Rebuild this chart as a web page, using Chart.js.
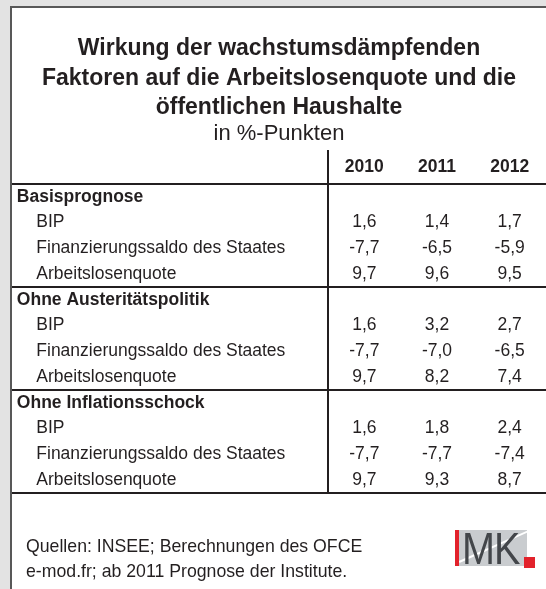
<!DOCTYPE html>
<html>
<head>
<meta charset="utf-8">
<script src="https://cdn.jsdelivr.net/npm/chart.js@4"></script>
<style>
  body { margin: 0; background: #e3e3e3; font-family: "Liberation Sans", Arial, sans-serif; }
  #panel { position: absolute; left: 10px; top: 6px; width: 536px; height: 583px; background: #fff;
           border-left: 2px solid #585858; border-top: 2px solid #585858; box-sizing: border-box; }
  #c { position: absolute; left: 0; top: 0; }
  #source { position: absolute; left: 14px; top: 526px; font-size: 17.7px; line-height: 25px; color: #231f20; }
  #logo { position: absolute; left: 443px; top: 522px; width: 72px; height: 36px; background: #c9cccf; overflow: hidden; }
  #logo .bar { position: absolute; left: 0; top: 0; width: 4px; height: 36px; background: #e2222b; }
  #logo .swoosh { position: absolute; left: 4px; top: 31px; width: 80px; height: 1.5px; background: #fff;
                  transform: rotate(-24deg); transform-origin: left center; }
  #logo .txt { position: absolute; left: 7px; top: -4px; font-size: 45px; line-height: 45px; color: #43464a;
               transform: scaleX(0.88); transform-origin: left top; letter-spacing: -1px; }
  #dot { position: absolute; left: 512px; top: 549px; width: 11px; height: 11px; background: #e2222b; }
</style>
</head>
<body>
<div id="panel">
  <canvas id="c" width="534" height="581"></canvas>
  <div id="source">Quellen: INSEE; Berechnungen des OFCE<br>e-mod.fr; ab 2011 Prognose der Institute.</div>
  <div id="logo"><div class="swoosh"></div><div class="bar"></div><div class="txt">MK</div></div>
  <div id="dot"></div>
</div>
<script>
// Wirkung der wachstumsdämpfenden Faktoren (Tabelle als Chart.js-Raster)

const years = ['2010', '2011', '2012'];
const sections = ['Basisprognose', 'Ohne Austeritätspolitik', 'Ohne Inflationsschock'];
const indicators = ['BIP', 'Finanzierungssaldo des Staates', 'Arbeitslosenquote'];

const bipBasis = [1.6, 1.4, 1.7];
const saldoBasis = [-7.7, -6.5, -5.9];
const alqBasis = [9.7, 9.6, 9.5];

const bipOhneAusteritaet = [1.6, 3.2, 2.7];
const saldoOhneAusteritaet = [-7.7, -7.0, -6.5];
const alqOhneAusteritaet = [9.7, 8.2, 7.4];

const bipOhneInflation = [1.6, 1.8, 2.4];
const saldoOhneInflation = [-7.7, -7.7, -7.4];
const alqOhneInflation = [9.7, 9.3, 8.7];

const sectionValues = [
    [bipBasis, saldoBasis, alqBasis],
    [bipOhneAusteritaet, saldoOhneAusteritaet, alqOhneAusteritaet],
    [bipOhneInflation, saldoOhneInflation, alqOhneInflation]
];

const FONT = '"Liberation Sans", Arial, sans-serif';
const INK = '#231f20';

// unique row keys "Abschnitt|Indikator", the tick callback shows only the visible part
const rowKeys = [];
const cells = [];
sections.forEach((sec, i) => {
    rowKeys.push(sec);
    indicators.forEach((ind, j) => {
        const key = sec + '|' + ind;
        rowKeys.push(key);
        sectionValues[i][j].forEach((v, k) => cells.push({ x: years[k], y: key, v: v }));
    });
});
const sectionRows = sections.map(s => rowKeys.indexOf(s));

const fmt = v => v.toFixed(1).replace('.', ',');

const cellText = {
    id: 'cellText',
    afterDatasetsDraw(chart) {
        const ctx = chart.ctx;
        const meta = chart.getDatasetMeta(0);
        ctx.save();
        ctx.font = '17.5px ' + FONT;
        ctx.fillStyle = INK;
        ctx.textAlign = 'center';
        ctx.textBaseline = 'middle';
        meta.data.forEach((el, i) => {
            ctx.fillText(fmt(chart.data.datasets[0].data[i].v), el.x, el.y);
        });
        ctx.restore();
    }
};

const rules = {
    id: 'rules',
    afterDraw(chart) {
        const { ctx, chartArea, scales } = chart;
        ctx.save();
        ctx.strokeStyle = INK;
        ctx.lineWidth = 2;
        // horizontal rules above each section and below the last row
        sectionRows.concat([rowKeys.length]).forEach(r => {
            const y = Math.round(scales.y.getPixelForValue(r - 0.5));
            ctx.beginPath();
            ctx.moveTo(0, y);
            ctx.lineTo(chartArea.right, y);
            ctx.stroke();
        });
        // vertical rule between labels and year columns
        const x = Math.round(chartArea.left);
        ctx.beginPath();
        ctx.moveTo(x, scales.x.top);
        ctx.lineTo(x, chartArea.bottom);
        ctx.stroke();
        ctx.restore();
    }
};

new Chart(document.getElementById('c').getContext('2d'), {
    type: 'scatter',
    data: {
        datasets: [{
            data: cells,
            pointRadius: 0,
            pointHoverRadius: 0,
            showLine: false
        }]
    },
    options: {
        responsive: false,
        animation: false,
        events: [],
        layout: { padding: { left: 0, right: 0, top: 0, bottom: 96 } },
        plugins: {
            legend: { display: false },
            tooltip: { enabled: false },
            title: {
                display: true,
                text: ['Wirkung der wachstumsdämpfenden', 'Faktoren auf die Arbeitslosenquote und die', 'öffentlichen Haushalte'],
                color: INK,
                font: { family: FONT, size: 23, weight: 'bold', lineHeight: 1.28 },
                padding: { top: 26, bottom: 0 }
            },
            subtitle: {
                display: true,
                text: 'in %-Punkten',
                color: INK,
                font: { family: FONT, size: 22, weight: 'normal', lineHeight: 1.1 },
                padding: { top: 0, bottom: 3.5 }
            }
        },
        scales: {
            x: {
                type: 'category',
                labels: years,
                position: 'top',
                offset: true,
                grid: { display: false, drawTicks: false },
                border: { display: false },
                ticks: { color: INK, font: { family: FONT, size: 17.5, weight: 'bold' }, padding: 6, maxRotation: 0 },
                afterFit(scale) { scale.height = 34; }
            },
            y: {
                type: 'category',
                labels: rowKeys,
                offset: true,
                grid: { display: false, drawTicks: false },
                border: { display: false },
                ticks: {
                    color: INK,
                    crossAlign: 'far',
                    autoSkip: false,
                    font: ctx => ({ family: FONT, size: 17.5, weight: sectionRows.includes(ctx.index) ? 'bold' : 'normal' }),
                    callback(value) {
                        const key = this.getLabelForValue(value);
                        const parts = key.split('|');
                        return parts.length > 1 ? '     ' + parts[1] : ' ' + parts[0];
                    }
                },
                afterFit(scale) { scale.width = 316; }
            }
        }
    },
    plugins: [cellText, rules]
});
</script>
</body>
</html>
